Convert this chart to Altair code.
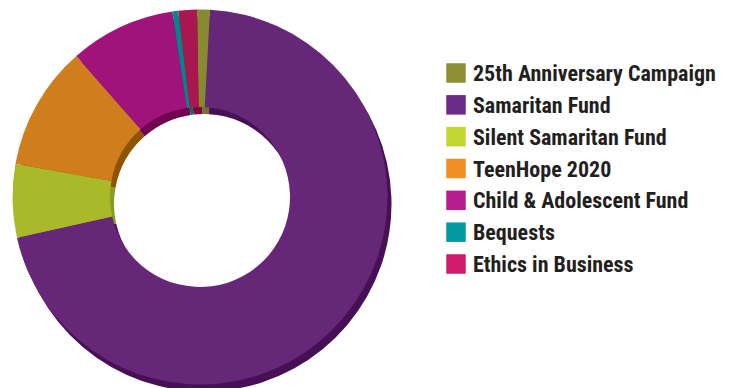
import math
import altair as alt
import pandas as pd

names = ["25th Anniversary Campaign", "Samaritan Fund", "Silent Samaritan Fund",
         "TeenHope 2020", "Child & Adolescent Fund", "Bequests", "Ethics in Business"]
values = [1.1, 70.6, 6.3, 10.7, 9.1, 0.5, 1.6]
pie_colors = ["#878a2f", "#662778", "#aab92a", "#d07d1e", "#a0137b", "#00868c", "#a8174f"]
side_colors = ["#73752a", "#470f55", "#8a9b22", "#8e5400", "#720050", "#006c72", "#7e0a3c"]
legend_colors = ["#8f9033", "#6a2a87", "#c4d630", "#ef8e22", "#b41e8e", "#009aa0", "#d01a6a"]

df = pd.DataFrame({
    "name": names,
    "value": values,
    "idx": list(range(len(names))),
    "pie": pie_colors,
    "side": side_colors,
    "leg": legend_colors,
})

start = -0.9 * math.pi / 180
theta_scale = alt.Scale(range=[start, start + 2 * math.pi])

base = alt.Chart(df)

side = base.mark_arc(outerRadius=187.5, innerRadius=90).encode(
    theta=alt.Theta("value:Q", stack=True, scale=theta_scale),
    order=alt.Order("idx:Q"),
    color=alt.Color("side:N", scale=None),
    x=alt.value(204), y=alt.value(204),
)

top = base.mark_arc(outerRadius=187.5, innerRadius=90).encode(
    theta=alt.Theta("value:Q", stack=True, scale=theta_scale),
    order=alt.Order("idx:Q"),
    color=alt.Color("pie:N", scale=None),
    x=alt.value(200), y=alt.value(197),
)

yenc = alt.Y("name:N", sort=names, axis=None,
             scale=alt.Scale(type="point", range=[73, 264], padding=0))

swatches = base.mark_square(size=380, opacity=1).encode(
    x=alt.value(456),
    y=yenc,
    color=alt.Color("leg:N", scale=None),
)

labels = base.mark_text(align="left", baseline="alphabetic", dy=8,
                        font="Roboto Condensed, DejaVu Sans Condensed, sans-serif",
                        fontWeight="bold", fontSize=22, color="#231f20").encode(
    x=alt.value(473),
    y=yenc,
    text="name:N",
)

chart = alt.layer(side, top, swatches, labels).properties(
    width=733, height=388, padding=0,
    autosize=alt.AutoSizeParams(type="none"),
).configure_view(stroke=None)

chart.save("out.html", embed_options={"renderer": "svg", "actions": False})
